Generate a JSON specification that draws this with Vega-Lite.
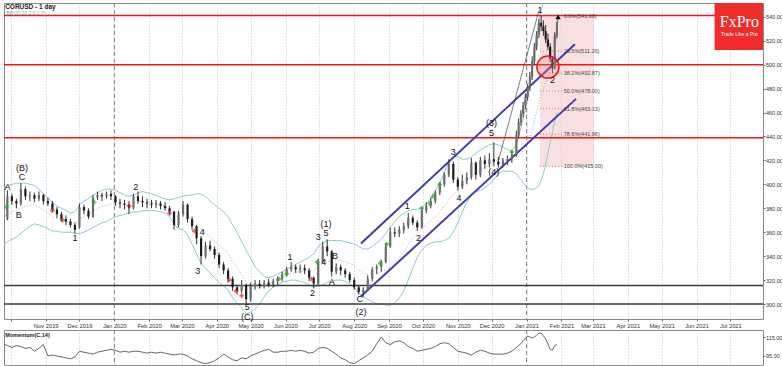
{
"$schema":"https://vega.github.io/schema/vega-lite/v6.json",
"background":"white",
"padding":{"left":2,"top":2,"right":0,"bottom":0},
"spacing":0,
"config":{
 "view":{"stroke":"#8a8a8a","strokeWidth":1},
 "font":"Liberation Sans",
 "axis":{"labelFont":"Liberation Sans","labelFontSize":6,"labelColor":"#333","tickColor":"#666","tickSize":2,"labelPadding":1,"domain":false,"grid":false,"labelOverlap":false}
},
"datasets":{
"px":[
{"d":"2019-09-24","o":366,"h":374,"l":364,"c":371,"u":396,"b":372.5,"w":349,"m":108},
{"d":"2019-09-28","o":371,"h":395,"l":370,"c":390,"u":399,"b":375.5,"w":352,"m":106},
{"d":"2019-10-02","o":390,"h":392,"l":383,"c":386,"u":400,"b":377,"w":354,"m":104},
{"d":"2019-10-06","o":386,"h":388,"l":380,"c":384,"u":401,"b":378.5,"w":356,"m":106},
{"d":"2019-10-10","o":384,"h":401,"l":382,"c":396,"u":401,"b":380,"w":359,"m":105},
{"d":"2019-10-14","o":396,"h":398,"l":387,"c":390,"u":401,"b":381.5,"w":362,"m":103},
{"d":"2019-10-18","o":390,"h":394,"l":386,"c":391,"u":400,"b":382.5,"w":365,"m":104},
{"d":"2019-10-22","o":391,"h":393,"l":385,"c":388,"u":399,"b":383,"w":367,"m":100},
{"d":"2019-10-26","o":388,"h":394,"l":386,"c":391,"u":396,"b":381,"w":366,"m":103},
{"d":"2019-10-30","o":391,"h":392,"l":383,"c":386,"u":392,"b":378.5,"w":365,"m":107},
{"d":"2019-11-03","o":386,"h":389,"l":382,"c":384,"u":389,"b":376,"w":363,"m":95},
{"d":"2019-11-07","o":384,"h":386,"l":377,"c":379,"u":385,"b":373,"w":361,"m":96},
{"d":"2019-11-11","o":379,"h":381,"l":372,"c":375,"u":382,"b":371.5,"w":361,"m":95},
{"d":"2019-11-15","o":375,"h":377,"l":369,"c":371,"u":380,"b":370,"w":360,"m":94},
{"d":"2019-11-19","o":371,"h":374,"l":366,"c":369,"u":378,"b":369,"w":360,"m":93},
{"d":"2019-11-23","o":369,"h":371,"l":364,"c":366,"u":376,"b":368,"w":360,"m":92},
{"d":"2019-11-27","o":366,"h":368,"l":359,"c":362,"u":377,"b":368,"w":359,"m":94},
{"d":"2019-12-01","o":364,"h":384,"l":363,"c":381,"u":383,"b":371,"w":359,"m":100},
{"d":"2019-12-05","o":381,"h":383,"l":375,"c":378,"u":386,"b":373,"w":360,"m":99},
{"d":"2019-12-09","o":378,"h":380,"l":371,"c":373,"u":388,"b":375,"w":362,"m":98},
{"d":"2019-12-13","o":373,"h":391,"l":372,"c":389,"u":391,"b":377.5,"w":364,"m":97},
{"d":"2019-12-17","o":389,"h":394,"l":387,"c":391,"u":393,"b":379.5,"w":366,"m":99},
{"d":"2019-12-21","o":391,"h":393,"l":386,"c":390,"u":395,"b":381.5,"w":368,"m":100},
{"d":"2019-12-25","o":390,"h":394,"l":388,"c":392,"u":396,"b":382.5,"w":369,"m":101},
{"d":"2019-12-29","o":392,"h":395,"l":387,"c":390,"u":396,"b":383.5,"w":371,"m":102},
{"d":"2020-01-02","o":390,"h":391,"l":382,"c":385,"u":395,"b":384,"w":373,"m":101},
{"d":"2020-01-06","o":385,"h":388,"l":380,"c":384,"u":393,"b":383.5,"w":374,"m":99},
{"d":"2020-01-10","o":384,"h":387,"l":379,"c":383,"u":391,"b":383,"w":375,"m":100},
{"d":"2020-01-14","o":383,"h":386,"l":375,"c":380,"u":390,"b":383,"w":376,"m":99},
{"d":"2020-01-18","o":380,"h":392,"l":379,"c":390,"u":391,"b":384,"w":377,"m":100},
{"d":"2020-01-22","o":390,"h":394,"l":384,"c":386,"u":393,"b":385,"w":377,"m":100},
{"d":"2020-01-26","o":386,"h":390,"l":381,"c":385,"u":394,"b":386,"w":378,"m":99},
{"d":"2020-01-30","o":385,"h":388,"l":380,"c":384,"u":393,"b":385.5,"w":378,"m":98},
{"d":"2020-02-03","o":384,"h":387,"l":380,"c":383,"u":392,"b":385,"w":378,"m":99},
{"d":"2020-02-07","o":383,"h":387,"l":380,"c":384,"u":391,"b":384.5,"w":378,"m":98},
{"d":"2020-02-11","o":384,"h":386,"l":379,"c":382,"u":389,"b":383,"w":377,"m":99},
{"d":"2020-02-15","o":382,"h":385,"l":378,"c":380,"u":388,"b":382,"w":376,"m":98},
{"d":"2020-02-19","o":380,"h":382,"l":374,"c":377,"u":387,"b":380,"w":373,"m":97},
{"d":"2020-02-23","o":377,"h":378,"l":362,"c":366,"u":388,"b":377.5,"w":367,"m":96},
{"d":"2020-02-27","o":366,"h":378,"l":364,"c":375,"u":389,"b":376,"w":363,"m":97},
{"d":"2020-03-02","o":375,"h":386,"l":373,"c":383,"u":390,"b":376,"w":362,"m":97},
{"d":"2020-03-06","o":383,"h":384,"l":368,"c":371,"u":391,"b":374.5,"w":358,"m":95},
{"d":"2020-03-10","o":371,"h":373,"l":362,"c":365,"u":391,"b":370.5,"w":350,"m":92},
{"d":"2020-03-14","o":365,"h":366,"l":350,"c":355,"u":392,"b":367,"w":342,"m":90},
{"d":"2020-03-18","o":355,"h":357,"l":333,"c":340,"u":392,"b":363,"w":334,"m":88},
{"d":"2020-03-22","o":340,"h":352,"l":338,"c":349,"u":390,"b":360,"w":330,"m":87},
{"d":"2020-03-26","o":349,"h":353,"l":344,"c":346,"u":386,"b":356,"w":326,"m":88},
{"d":"2020-03-30","o":346,"h":348,"l":338,"c":341,"u":383,"b":352.5,"w":322,"m":90},
{"d":"2020-04-03","o":341,"h":343,"l":330,"c":333,"u":380,"b":349,"w":318,"m":93},
{"d":"2020-04-07","o":333,"h":335,"l":325,"c":328,"u":377,"b":346,"w":315,"m":97},
{"d":"2020-04-11","o":328,"h":330,"l":318,"c":321,"u":373,"b":342.5,"w":312,"m":94},
{"d":"2020-04-15","o":321,"h":323,"l":311,"c":314,"u":366,"b":335.5,"w":305,"m":91},
{"d":"2020-04-19","o":314,"h":316,"l":308,"c":311,"u":360,"b":330.5,"w":301,"m":90},
{"d":"2020-04-23","o":311,"h":320,"l":309,"c":316,"u":352,"b":324.5,"w":297,"m":93},
{"d":"2020-04-27","o":316,"h":317,"l":300,"c":304,"u":345,"b":318.5,"w":292,"m":92},
{"d":"2020-05-01","o":304,"h":318,"l":302,"c":315,"u":338,"b":315.5,"w":293,"m":95},
{"d":"2020-05-05","o":315,"h":320,"l":312,"c":317,"u":331,"b":313.5,"w":296,"m":97},
{"d":"2020-05-09","o":317,"h":320,"l":313,"c":315,"u":327,"b":313.5,"w":300,"m":99},
{"d":"2020-05-13","o":315,"h":320,"l":313,"c":318,"u":323,"b":314.5,"w":306,"m":101},
{"d":"2020-05-17","o":318,"h":321,"l":314,"c":316,"u":322,"b":316.5,"w":311,"m":102},
{"d":"2020-05-21","o":316,"h":321,"l":314,"c":319,"u":323,"b":318.5,"w":314,"m":99},
{"d":"2020-05-25","o":319,"h":323,"l":316,"c":321,"u":325,"b":320.5,"w":316,"m":99},
{"d":"2020-05-29","o":321,"h":327,"l":319,"c":325,"u":327,"b":322.5,"w":318,"m":100},
{"d":"2020-06-02","o":325,"h":331,"l":323,"c":329,"u":329,"b":324,"w":319,"m":100},
{"d":"2020-06-06","o":329,"h":335,"l":327,"c":331,"u":331,"b":325.5,"w":320,"m":101},
{"d":"2020-06-10","o":331,"h":333,"l":326,"c":329,"u":333,"b":326.5,"w":320,"m":100},
{"d":"2020-06-14","o":329,"h":333,"l":326,"c":330,"u":335,"b":327,"w":319,"m":101},
{"d":"2020-06-18","o":330,"h":333,"l":325,"c":328,"u":337,"b":327.5,"w":318,"m":100},
{"d":"2020-06-22","o":328,"h":330,"l":319,"c":322,"u":339,"b":327.5,"w":316,"m":98},
{"d":"2020-06-26","o":322,"h":323,"l":313,"c":317,"u":342,"b":328,"w":314,"m":99},
{"d":"2020-06-30","o":317,"h":338,"l":316,"c":335,"u":348,"b":331.5,"w":315,"m":103},
{"d":"2020-07-04","o":335,"h":352,"l":334,"c":348,"u":351,"b":333.5,"w":316,"m":104},
{"d":"2020-07-08","o":348,"h":354,"l":340,"c":344,"u":353,"b":335.5,"w":318,"m":103},
{"d":"2020-07-12","o":344,"h":345,"l":323,"c":327,"u":353,"b":336,"w":319,"m":100},
{"d":"2020-07-16","o":327,"h":334,"l":325,"c":331,"u":353,"b":336.5,"w":320,"m":97},
{"d":"2020-07-20","o":331,"h":333,"l":324,"c":328,"u":353,"b":336.5,"w":320,"m":93},
{"d":"2020-07-24","o":328,"h":330,"l":322,"c":325,"u":352,"b":335.5,"w":319,"m":91},
{"d":"2020-07-28","o":325,"h":327,"l":318,"c":320,"u":351,"b":334,"w":317,"m":88},
{"d":"2020-08-01","o":320,"h":322,"l":312,"c":314,"u":350,"b":332,"w":314,"m":87},
{"d":"2020-08-05","o":314,"h":316,"l":308,"c":310,"u":348,"b":328.5,"w":309,"m":90},
{"d":"2020-08-09","o":310,"h":314,"l":306,"c":312,"u":346,"b":326,"w":306,"m":93},
{"d":"2020-08-13","o":312,"h":324,"l":311,"c":321,"u":346,"b":325,"w":304,"m":96},
{"d":"2020-08-17","o":321,"h":331,"l":319,"c":329,"u":348,"b":325,"w":302,"m":100},
{"d":"2020-08-21","o":329,"h":333,"l":325,"c":331,"u":351,"b":325.5,"w":300,"m":108},
{"d":"2020-08-25","o":331,"h":337,"l":327,"c":335,"u":354,"b":327,"w":300,"m":115},
{"d":"2020-08-29","o":335,"h":351,"l":334,"c":348,"u":359,"b":329,"w":299,"m":109},
{"d":"2020-09-02","o":348,"h":364,"l":347,"c":360,"u":364,"b":331.5,"w":299,"m":107},
{"d":"2020-09-06","o":360,"h":364,"l":356,"c":359,"u":369,"b":335,"w":301,"m":110},
{"d":"2020-09-10","o":359,"h":365,"l":356,"c":362,"u":373,"b":339,"w":305,"m":111},
{"d":"2020-09-14","o":362,"h":368,"l":359,"c":365,"u":376,"b":343.5,"w":311,"m":109},
{"d":"2020-09-18","o":365,"h":376,"l":363,"c":372,"u":378,"b":349,"w":320,"m":105},
{"d":"2020-09-22","o":372,"h":374,"l":366,"c":368,"u":379,"b":354.5,"w":330,"m":103},
{"d":"2020-09-26","o":368,"h":370,"l":361,"c":364,"u":379,"b":359,"w":339,"m":100},
{"d":"2020-09-30","o":364,"h":381,"l":363,"c":378,"u":381,"b":363,"w":345,"m":101},
{"d":"2020-10-04","o":378,"h":385,"l":376,"c":382,"u":384,"b":366.5,"w":349,"m":102},
{"d":"2020-10-08","o":382,"h":389,"l":380,"c":386,"u":388,"b":369.5,"w":351,"m":103},
{"d":"2020-10-12","o":386,"h":395,"l":384,"c":393,"u":394,"b":373,"w":352,"m":105},
{"d":"2020-10-16","o":393,"h":402,"l":391,"c":400,"u":401,"b":376.5,"w":352,"m":108},
{"d":"2020-10-20","o":400,"h":410,"l":398,"c":408,"u":410,"b":381.5,"w":353,"m":109},
{"d":"2020-10-24","o":408,"h":421,"l":406,"c":417,"u":419,"b":387,"w":355,"m":108},
{"d":"2020-10-28","o":417,"h":419,"l":401,"c":404,"u":423,"b":391.5,"w":360,"m":104},
{"d":"2020-11-01","o":404,"h":406,"l":395,"c":398,"u":423,"b":395.5,"w":368,"m":100},
{"d":"2020-11-05","o":398,"h":408,"l":396,"c":403,"u":421,"b":399,"w":377,"m":99},
{"d":"2020-11-09","o":403,"h":410,"l":400,"c":406,"u":421,"b":403,"w":385,"m":98},
{"d":"2020-11-13","o":406,"h":422,"l":404,"c":418,"u":423,"b":407,"w":391,"m":96},
{"d":"2020-11-17","o":418,"h":419,"l":404,"c":408,"u":426,"b":410,"w":394,"m":99},
{"d":"2020-11-21","o":408,"h":423,"l":406,"c":420,"u":429,"b":412,"w":395,"m":101},
{"d":"2020-11-25","o":420,"h":424,"l":413,"c":417,"u":431,"b":414,"w":397,"m":100},
{"d":"2020-11-29","o":417,"h":426,"l":414,"c":421,"u":433,"b":416.5,"w":400,"m":98},
{"d":"2020-12-03","o":421,"h":435,"l":415,"c":419,"u":434,"b":419,"w":404,"m":97},
{"d":"2020-12-07","o":419,"h":423,"l":414,"c":417,"u":433,"b":421,"w":409,"m":97},
{"d":"2020-12-11","o":417,"h":422,"l":414,"c":420,"u":431,"b":421,"w":411,"m":97},
{"d":"2020-12-15","o":420,"h":424,"l":416,"c":421,"u":429,"b":420,"w":411,"m":98},
{"d":"2020-12-19","o":421,"h":428,"l":418,"c":425,"u":428,"b":419.5,"w":411,"m":100},
{"d":"2020-12-23","o":425,"h":445,"l":423,"c":441,"u":433,"b":421,"w":409,"m":104},
{"d":"2020-12-25","o":441,"h":455,"l":439,"c":452,"u":440,"b":423,"w":406,"m":106},
{"d":"2020-12-27","o":452,"h":462,"l":449,"c":459,"u":447,"b":425.5,"w":404,"m":108},
{"d":"2020-12-29","o":459,"h":469,"l":456,"c":466,"u":455,"b":428,"w":401,"m":111},
{"d":"2020-12-31","o":466,"h":476,"l":463,"c":473,"u":463,"b":431,"w":399,"m":114},
{"d":"2021-01-02","o":473,"h":484,"l":470,"c":481,"u":472,"b":434.5,"w":397,"m":116},
{"d":"2021-01-04","o":481,"h":494,"l":478,"c":490,"u":483,"b":439.5,"w":396,"m":115},
{"d":"2021-01-06","o":490,"h":507,"l":487,"c":503,"u":496,"b":446,"w":396,"m":114},
{"d":"2021-01-08","o":503,"h":518,"l":500,"c":515,"u":510,"b":453,"w":396,"m":115},
{"d":"2021-01-10","o":515,"h":528,"l":512,"c":525,"u":524,"b":460.5,"w":397,"m":117},
{"d":"2021-01-12","o":525,"h":538,"l":522,"c":535,"u":537,"b":468,"w":399,"m":119},
{"d":"2021-01-14","o":535,"h":541,"l":528,"c":532,"u":546,"b":474.5,"w":403,"m":119},
{"d":"2021-01-16","o":532,"h":537,"l":524,"c":528,"u":551,"b":480,"w":409,"m":116},
{"d":"2021-01-18","o":528,"h":533,"l":518,"c":521,"u":554,"b":485.5,"w":417,"m":113},
{"d":"2021-01-20","o":521,"h":526,"l":512,"c":515,"u":555,"b":490.5,"w":426,"m":108},
{"d":"2021-01-22","o":515,"h":518,"l":502,"c":505,"u":555,"b":495,"w":435,"m":102},
{"d":"2021-01-24","o":505,"h":507,"l":493,"c":497,"u":554,"b":499,"w":444,"m":101},
{"d":"2021-01-26","o":497,"h":527,"l":496,"c":524,"u":553,"b":502.5,"w":452,"m":106},
{"d":"2021-01-28","o":524,"h":536,"l":522,"c":533,"u":552,"b":506,"w":460,"m":107}
],
"yr":[{"d":"2020-01-01"},{"d":"2021-01-01"}],
"hl":[{"v":541,"k":"r"},{"v":500,"k":"r"},{"v":439,"k":"r"},{"v":315.5,"k":"k"},{"v":300,"k":"k"}],
"ch":[{"k":"a","d":"2020-08-07","v":350.6},{"k":"a","d":"2021-02-13","v":517},{"k":"b","d":"2020-08-07","v":306.5},{"k":"b","d":"2021-02-14","v":471.4}],
"fbx":[{"d1":"2021-01-13","d2":"2021-03-02","v1":415,"v2":541}],
"fib":[{"v":541,"t":"0.0%(541.00)"},{"v":511.26,"t":"23.6%(511.26)"},{"v":492.87,"t":"38.2%(492.87)"},{"v":478,"t":"50.0%(478.00)"},{"v":463.13,"t":"61.8%(463.13)"},{"v":441.96,"t":"78.6%(441.96)"},{"v":415,"t":"100.0%(415.00)"}],
"an":[{"k":"f","d":"2020-12-06","v":416},{"k":"f","d":"2021-01-12","v":545},{"k":"p","d":"2021-01-26","v":515},{"k":"p","d":"2021-01-29","v":539}],
"sig":[
{"d":"2019-09-27","v":381,"k":"g"},{"d":"2019-12-14","v":385,"k":"g"},{"d":"2020-05-26","v":321,"k":"g"},{"d":"2020-06-02","v":325,"k":"g"},{"d":"2020-06-29","v":335,"k":"g"},{"d":"2020-08-24","v":334,"k":"g"},{"d":"2020-08-30","v":350,"k":"g"},{"d":"2020-09-30","v":380,"k":"g"},{"d":"2020-10-07","v":384,"k":"g"},{"d":"2020-10-10","v":390,"k":"g"},{"d":"2020-10-16","v":400,"k":"g"},{"d":"2020-12-19","v":427,"k":"g"},
{"d":"2019-11-07","v":378,"k":"r"},{"d":"2019-11-16","v":370,"k":"r"},{"d":"2020-01-14","v":382,"k":"r"},{"d":"2020-02-19","v":376,"k":"r"},{"d":"2020-03-12","v":361,"k":"r"},{"d":"2020-04-12","v":320,"k":"r"},{"d":"2020-04-18","v":311,"k":"r"},{"d":"2020-04-23","v":307,"k":"r"},{"d":"2020-06-24","v":321,"k":"r"}
],
"circ":[{"d":"2021-01-20","v":498}],
"arr":[{"d":"2021-01-29","v":540}],
"lab":[
{"d":"2019-09-28","v":398,"t":"A"},{"d":"2019-10-08","v":374,"t":"B"},{"d":"2019-10-11","v":413.5,"t":"(B)"},{"d":"2019-10-11","v":406,"t":"C"},
{"d":"2019-11-27","v":355,"t":"1"},{"d":"2020-01-20","v":398,"t":"2"},{"d":"2020-03-15","v":328,"t":"3"},{"d":"2020-03-19","v":360,"t":"4"},
{"d":"2020-04-28","v":297.5,"t":"5"},{"d":"2020-04-28","v":288.8,"t":"(C)"},{"d":"2020-06-05","v":339.5,"t":"1"},{"d":"2020-06-25","v":309,"t":"2"},
{"d":"2020-06-30","v":356,"t":"3"},{"d":"2020-07-05","v":335,"t":"4"},{"d":"2020-07-07","v":367,"t":"(1)"},{"d":"2020-07-07","v":359,"t":"5"},
{"d":"2020-07-15","v":340,"t":"B"},{"d":"2020-07-12","v":318,"t":"A"},{"d":"2020-08-06","v":304,"t":"C"},{"d":"2020-08-07","v":293,"t":"(2)"},
{"d":"2020-09-17","v":382,"t":"1"},{"d":"2020-09-27","v":355,"t":"2"},{"d":"2020-10-28","v":427,"t":"3"},{"d":"2020-11-02","v":389,"t":"4"},
{"d":"2020-12-01","v":451,"t":"(3)"},{"d":"2020-12-01","v":443,"t":"5"},{"d":"2020-12-03","v":410,"t":"(4)"},
{"d":"2021-01-13","v":545.5,"t":"1"},{"d":"2021-01-24","v":487.5,"t":"2"}
],
"logo":[{"d1":"2021-06-17","d2":"2021-07-30","v1":512.2,"v2":551.5}],
"lg1":[{"d":"2021-07-09","v":535.5,"t":"FxPro"}],
"lg2":[{"d":"2021-07-09","v":525.8,"t":"Trade Like a Pro"}],
"ttl":[{"d":"2019-09-26","v":550.5,"t":"CORUSD - 1 day"}],
"ttl2":[{"d":"2019-09-27","v":543.5,"t":"BB(20,20,2.0,1,0)"}],
"mt":[{"d":"2019-09-26","v":117.5,"t":"Momentum(C,14)"}]
},
"vconcat":[
{
"width":759,"height":316,
"layer":[
{"data":{"name":"fbx"},"mark":{"type":"rect","color":"#f5c9c9","opacity":0.55},
 "encoding":{"x":{"field":"d1","type":"temporal","title":null,"scale":{"domain":[{"year":2019,"month":9,"date":25},{"year":2021,"month":7,"date":30}],"padding":0},
   "axis":{"orient":"bottom","title":null,"tickCount":40,"values":[{"year":2019,"month":10,"date":1},{"year":2019,"month":11,"date":1},{"year":2019,"month":12,"date":1},{"year":2020,"month":1,"date":1},{"year":2020,"month":2,"date":1},{"year":2020,"month":3,"date":1},{"year":2020,"month":4,"date":1},{"year":2020,"month":5,"date":1},{"year":2020,"month":6,"date":1},{"year":2020,"month":7,"date":1},{"year":2020,"month":8,"date":1},{"year":2020,"month":9,"date":1},{"year":2020,"month":10,"date":1},{"year":2020,"month":11,"date":1},{"year":2020,"month":12,"date":1},{"year":2021,"month":1,"date":1},{"year":2021,"month":2,"date":1},{"year":2021,"month":3,"date":1},{"year":2021,"month":4,"date":1},{"year":2021,"month":5,"date":1},{"year":2021,"month":6,"date":1},{"year":2021,"month":7,"date":1}],"format":"%b %Y","labelExpr":"datum.value < datetime(2019, 10, 1) ? '' : datum.label","grid":true,"gridColor":"#b5b5b5","gridDash":[1,2],"gridWidth":0.8,"tickSize":2,"labelOverlap":false,"labelFlush":false,"labelFontSize":5.8}},
 "x2":{"field":"d2"},
 "y":{"field":"v1","type":"quantitative","title":null,"scale":{"domain":[287.5,551.5],"nice":false,"zero":false},
   "axis":{"orient":"right","title":null,"tickCount":40,"values":[300,320,340,360,380,400,420,440,460,480,500,520,540],"format":".2f","tickSize":2,"labelPadding":0.5,"labelFontSize":5.5,"grid":false,"labelOverlap":false}},
 "y2":{"field":"v2"}}},
{"data":{"name":"yr"},"mark":{"type":"rule","color":"#666","strokeDash":[4,3],"strokeWidth":0.8},
 "encoding":{"x":{"field":"d","type":"temporal","title":null}}},
{"data":{"name":"px"},"mark":{"type":"line","color":"#8cc8cf","strokeWidth":1,"clip":true},
 "encoding":{"x":{"field":"d","type":"temporal","title":null},"y":{"field":"u","type":"quantitative","title":null}}},
{"data":{"name":"px"},"mark":{"type":"line","color":"#8cc8cf","strokeWidth":1,"clip":true},
 "encoding":{"x":{"field":"d","type":"temporal","title":null},"y":{"field":"w","type":"quantitative","title":null}}},
{"data":{"name":"px"},"mark":{"type":"line","color":"#999","strokeWidth":0.8,"strokeDash":[1,2],"clip":true},
 "encoding":{"x":{"field":"d","type":"temporal","title":null},"y":{"field":"b","type":"quantitative","title":null}}},
{"data":{"name":"hl"},"mark":{"type":"rule","strokeWidth":1.5},
 "encoding":{"y":{"field":"v","type":"quantitative","title":null},"color":{"condition":{"test":"datum.k=='r'","value":"#f31515"},"value":"#3c3c3c"}}},
{"data":{"name":"ch"},"mark":{"type":"line","color":"#3d3dae","strokeWidth":2},
 "encoding":{"x":{"field":"d","type":"temporal","title":null},"y":{"field":"v","type":"quantitative","title":null},"detail":{"field":"k"}}},
{"data":{"name":"fib"},"mark":{"type":"rule","color":"#e05050","strokeDash":[1,2],"strokeWidth":0.8},
 "encoding":{"x":{"datum":{"year":2021,"month":1,"date":13},"type":"temporal","title":null},"x2":{"datum":{"year":2021,"month":2,"date":2}},"y":{"field":"v","type":"quantitative","title":null}}},
{"data":{"name":"an"},"mark":{"type":"line","color":"#444","strokeWidth":0.7},
 "encoding":{"x":{"field":"d","type":"temporal","title":null},"y":{"field":"v","type":"quantitative","title":null},"detail":{"field":"k"}}},
{"data":{"name":"px"},"mark":{"type":"rule","color":"#333","strokeWidth":1,"clip":true},
 "encoding":{"x":{"field":"d","type":"temporal","title":null},"y":{"field":"l","type":"quantitative","title":null},"y2":{"field":"h"}}},
{"data":{"name":"px"},"mark":{"type":"bar","size":2.2,"clip":true},
 "encoding":{"x":{"field":"d","type":"temporal","title":null},"y":{"field":"o","type":"quantitative","title":null},"y2":{"field":"c"},"color":{"condition":{"test":"datum.c >= datum.o","value":"#6e6e6e"},"value":"#1e1e1e"}}},
{"data":{"name":"sig"},"mark":{"type":"point","shape":"cross","filled":true,"size":20},
 "encoding":{"x":{"field":"d","type":"temporal","title":null},"y":{"field":"v","type":"quantitative","title":null},"color":{"condition":{"test":"datum.k=='g'","value":"#22aa22"},"value":"#dd2222"}}},
{"data":{"name":"circ"},"mark":{"type":"point","shape":"circle","size":490,"fill":"#f08080","fillOpacity":0.3,"stroke":"#e81818","strokeWidth":1.5,"strokeOpacity":1},
 "encoding":{"x":{"field":"d","type":"temporal","title":null},"y":{"field":"v","type":"quantitative","title":null}}},
{"data":{"name":"arr"},"mark":{"type":"point","shape":"triangle-up","size":30,"filled":true,"color":"#111","opacity":1},
 "encoding":{"x":{"field":"d","type":"temporal","title":null},"y":{"field":"v","type":"quantitative","title":null}}},
{"data":{"name":"lab"},"mark":{"type":"text","fontSize":9,"color":"#111"},
 "encoding":{"x":{"field":"d","type":"temporal","title":null},"y":{"field":"v","type":"quantitative","title":null},"text":{"field":"t"}}},
{"data":{"name":"fib"},"mark":{"type":"text","align":"left","fontSize":5.5,"color":"#444"},
 "encoding":{"x":{"datum":{"year":2021,"month":2,"date":3},"type":"temporal","title":null},"y":{"field":"v","type":"quantitative","title":null},"text":{"field":"t"}}},
{"data":{"name":"logo"},"mark":{"type":"rect","color":"#ef2b2b","opacity":1},
 "encoding":{"x":{"field":"d1","type":"temporal","title":null},"x2":{"field":"d2"},"y":{"field":"v1","type":"quantitative","title":null},"y2":{"field":"v2"}}},
{"data":{"name":"lg1"},"mark":{"type":"text","font":"Liberation Serif","fontSize":16,"color":"white"},
 "encoding":{"x":{"field":"d","type":"temporal","title":null},"y":{"field":"v","type":"quantitative","title":null},"text":{"field":"t"}}},
{"data":{"name":"lg2"},"mark":{"type":"text","fontSize":5,"color":"white"},
 "encoding":{"x":{"field":"d","type":"temporal","title":null},"y":{"field":"v","type":"quantitative","title":null},"text":{"field":"t"}}},
{"data":{"name":"ttl"},"mark":{"type":"text","align":"left","baseline":"top","fontSize":6.5,"fontWeight":"bold","color":"#222"},
 "encoding":{"x":{"field":"d","type":"temporal","title":null},"y":{"field":"v","type":"quantitative","title":null},"text":{"field":"t"}}},
{"data":{"name":"ttl2"},"mark":{"type":"text","align":"left","fontSize":5,"color":"#66b3b8"},
 "encoding":{"x":{"field":"d","type":"temporal","title":null},"y":{"field":"v","type":"quantitative","title":null},"text":{"field":"t"}}}
]
},
{
"width":759,"height":35,
"layer":[
{"data":{"name":"px"},"mark":{"type":"line","color":"#555","strokeWidth":0.9,"clip":true},
 "encoding":{"x":{"field":"d","type":"temporal","title":null,"scale":{"domain":[{"year":2019,"month":9,"date":25},{"year":2021,"month":7,"date":30}],"padding":0},
   "axis":{"title":null,"tickCount":40,"values":[{"year":2019,"month":10,"date":1},{"year":2019,"month":11,"date":1},{"year":2019,"month":12,"date":1},{"year":2020,"month":1,"date":1},{"year":2020,"month":2,"date":1},{"year":2020,"month":3,"date":1},{"year":2020,"month":4,"date":1},{"year":2020,"month":5,"date":1},{"year":2020,"month":6,"date":1},{"year":2020,"month":7,"date":1},{"year":2020,"month":8,"date":1},{"year":2020,"month":9,"date":1},{"year":2020,"month":10,"date":1},{"year":2020,"month":11,"date":1},{"year":2020,"month":12,"date":1},{"year":2021,"month":1,"date":1},{"year":2021,"month":2,"date":1},{"year":2021,"month":3,"date":1},{"year":2021,"month":4,"date":1},{"year":2021,"month":5,"date":1},{"year":2021,"month":6,"date":1},{"year":2021,"month":7,"date":1}],"labels":false,"ticks":false,"grid":true,"gridColor":"#b5b5b5","gridDash":[1,2],"gridWidth":0.8}},
 "y":{"field":"m","type":"quantitative","title":null,"scale":{"domain":[85.5,122.4],"nice":false,"zero":false},"axis":{"orient":"right","title":null,"tickCount":10,"values":[95,115],"format":".2f","tickSize":2,"labelPadding":0.5,"labelFontSize":5.5,"grid":false}}}},
{"data":{"name":"yr"},"mark":{"type":"rule","color":"#666","strokeDash":[4,3],"strokeWidth":0.8},
 "encoding":{"x":{"field":"d","type":"temporal","title":null}}},
{"data":{"name":"mt"},"mark":{"type":"text","align":"left","fontSize":5.5,"fontWeight":"bold","color":"#222"},
 "encoding":{"x":{"field":"d","type":"temporal","title":null},"y":{"field":"v","type":"quantitative","title":null},"text":{"field":"t"}}}
]
}
]
}
